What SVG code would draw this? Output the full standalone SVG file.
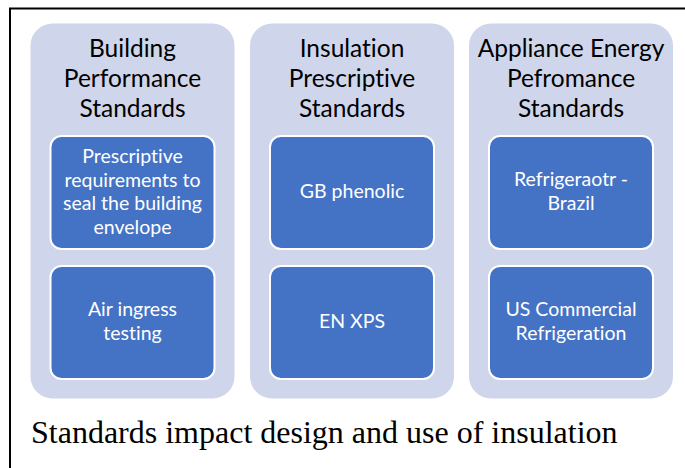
<svg xmlns="http://www.w3.org/2000/svg" width="685" height="468" viewBox="0 0 685 468">
<style>
.panel{fill:#CFD5EA}
.box{fill:#4472C4;stroke:#FFFFFF;stroke-width:2}
.title{font-family:Lato,"Liberation Sans",sans-serif;font-size:24.5px;fill:#000000;text-anchor:middle;font-variant-ligatures:none;font-feature-settings:"liga" 0,"clig" 0,"dlig" 0}
.lbl{font-family:Lato,"Liberation Sans",sans-serif;font-size:19.5px;fill:#FFFFFF;text-anchor:middle;font-variant-ligatures:none;font-feature-settings:"liga" 0,"clig" 0,"dlig" 0}
.cap{font-family:"Liberation Serif",serif;font-size:32px;fill:#000000}
</style>
<rect x="0" y="0" width="685" height="468" fill="#FFFFFF"/>
<path d="M10,468 V8.5 H685" fill="none" stroke="#000000" stroke-width="2"/>
<g id="col1">
<rect class="panel" x="30.5" y="23.5" width="204" height="375" rx="22"/>
<text class="title" x="132.5"><tspan x="132.5" y="57">Building</tspan><tspan x="132.5" y="87">Performance</tspan><tspan x="132.5" y="117">Standards</tspan></text>
</g>
<g id="n1">
<rect class="box" x="50.5" y="136" width="164" height="113" rx="11"/>
<text class="lbl"><tspan x="132.5" y="163">Prescriptive</tspan><tspan x="132.5" y="187">requirements to</tspan><tspan x="132.5" y="210">seal the building</tspan><tspan x="132.5" y="234">envelope</tspan></text>
</g>
<g id="n2">
<rect class="box" x="50.5" y="266" width="164" height="113" rx="11"/>
<text class="lbl"><tspan x="132.5" y="316">Air ingress</tspan><tspan x="132.5" y="340">testing</tspan></text>
</g>
<g id="col2">
<rect class="panel" x="250" y="23.5" width="204" height="375" rx="22"/>
<text class="title"><tspan x="352" y="57">Insulation</tspan><tspan x="352" y="87">Prescriptive</tspan><tspan x="352" y="117">Standards</tspan></text>
</g>
<g id="n3">
<rect class="box" x="270" y="136" width="164" height="113" rx="11"/>
<text class="lbl" x="352" y="198">GB phenolic</text>
</g>
<g id="n4">
<rect class="box" x="270" y="266" width="164" height="113" rx="11"/>
<text class="lbl" x="352" y="328">EN XPS</text>
</g>
<g id="col3">
<rect class="panel" x="469" y="23.5" width="204" height="375" rx="22"/>
<text class="title"><tspan x="571" y="57">Appliance Energy</tspan><tspan x="571" y="87">Pefromance</tspan><tspan x="571" y="117">Standards</tspan></text>
</g>
<g id="n5">
<rect class="box" x="489" y="136" width="164" height="113" rx="11"/>
<text class="lbl"><tspan x="571" y="186">Refrigeraotr -</tspan><tspan x="571" y="210">Brazil</tspan></text>
</g>
<g id="n6">
<rect class="box" x="489" y="266" width="164" height="113" rx="11"/>
<text class="lbl"><tspan x="571" y="316">US Commercial</tspan><tspan x="571" y="340">Refrigeration</tspan></text>
</g>
<g id="connectors"></g>
<text class="cap" x="31" y="443">Standards impact design and use of insulation</text>
</svg>
